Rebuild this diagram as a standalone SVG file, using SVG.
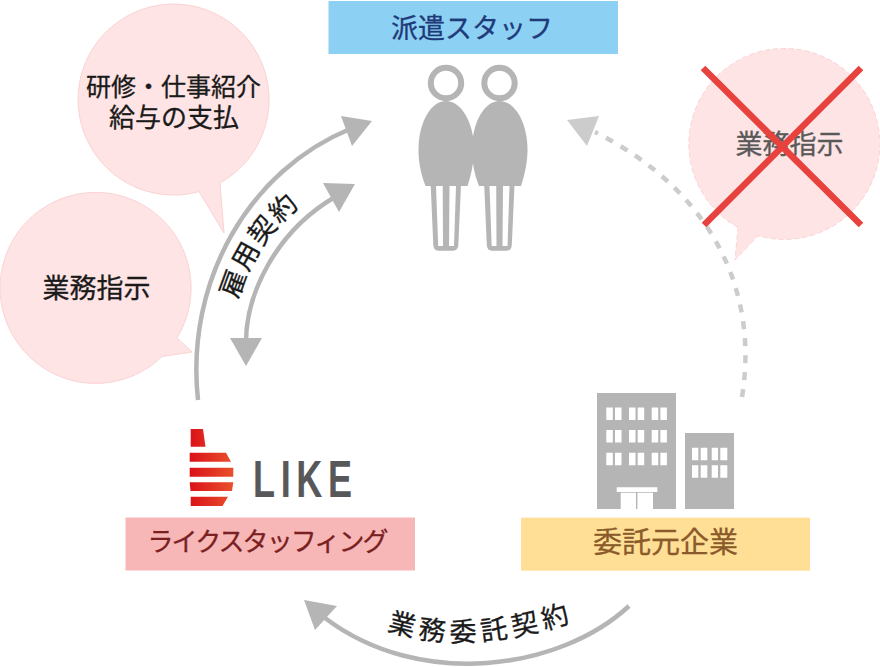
<svg xmlns="http://www.w3.org/2000/svg" xmlns:xlink="http://www.w3.org/1999/xlink" width="880" height="667" viewBox="0 0 880 667">
<style>
text{font-family:"Noto Sans CJK JP","Noto Sans",sans-serif;font-size:27px;text-anchor:middle;fill:#1a1a1a;stroke:#1a1a1a;stroke-width:.3px}
.bub{fill:#fee4e4;stroke:#fbd3d3;stroke-width:1}
.gray{fill:#b5b5b5}
.win{fill:#fff}
.arc{fill:none;stroke:#b5b5b5;stroke-width:4.5}
.head{fill:#b5b5b5}
</style>
<defs>
<linearGradient id="lg" x1="0" y1="0" x2="1" y2="0"><stop offset="0" stop-color="#da1218"/><stop offset="1" stop-color="#e9502c"/></linearGradient>
<g id="person">
<circle cx="446" cy="83" r="15.2" fill="none" stroke="#b5b5b5" stroke-width="6"/>
<path class="gray" d="M425.5 186C420 172 418.5 160 418.5 150C418.5 122 431 101 446 101C461 101 474 122 474 150C474 160 472 172 467.5 186Z"/>
<path class="gray" d="M430.7 185L461 185L458.3 245Q458 250.7 453 250.7L438.5 250.7Q433.5 250.7 433.3 245Z"/>
<path class="win" d="M436 186L442.7 186L443 246L438.2 246ZM449.5 186L456 186L454 246L449 246Z"/>
</g>
<path id="tp1" d="M238 300Q255 240 305 202"/>
<path id="tp2" d="M387 630Q470 658 582 618"/>
</defs>

<g id="bubble-training">
<path class="bub" d="M199 191.6A95.5 95.5 0 1 1 220 183L224 233Z"/>
<text x="173.500" y="96" style="font-size:25px">研修・仕事紹介</text>
<text x="174" y="127" style="font-size:26px">給与の支払</text>
</g>
<g id="bubble-instruction">
<path class="bub" d="M177 337.800A95.500 95.500 0 1 0 162 356.500L192 352Z"/>
<text x="96.500" y="298">業務指示</text>
</g>
<g id="connectors">
<path class="arc" d="M198 400C185 280 250 170 350 129"/>
<path class="head" d="M372 121L341 116L352 146Z"/>
<path class="arc" d="M246 342C246 295 275 232 335 197"/>
<path class="head" d="M355 184L323 183L339 212Z"/>
<path class="head" d="M230 338L262 338L246 366Z"/>
<path class="arc" d="M629 606C560 670 420 690 325 618"/>
<path class="head" d="M304 600L337 606L315 630Z"/>
<path fill="none" stroke="#ccc" stroke-width="4.500" stroke-dasharray="8 9" d="M742 397C758 300 720 195 595 132"/>
<path fill="#ccc" d="M567 120L599 116L587 146Z"/>
</g>
<g id="label-employment"><text style="text-anchor:start;font-size:27px;letter-spacing:2px"><textPath xlink:href="#tp1" href="#tp1">雇用契約</textPath></text></g>
<g id="label-outsourcing"><text style="text-anchor:start;font-size:27px;letter-spacing:5px"><textPath xlink:href="#tp2" href="#tp2">業務委託契約</textPath></text></g>
<g id="staff">
<rect x="328.500" y="1" width="289.500" height="53" fill="#8cd1f3"/>
<text x="472" y="38" style="fill:#1f3a7a;stroke:#1f3a7a">派遣スタッフ</text>
<use xlink:href="#person" href="#person"/>
<use xlink:href="#person" href="#person" x="53.500"/>
</g>
<g id="bubble-crossed">
<path class="bub" style="stroke-dasharray:5 3" d="M738 227.400A95.500 95.500 0 1 1 758 235.700L735 260Z"/>
<text x="789.500" y="154" style="fill:#595959;stroke:#595959">業務指示</text>
<path d="M703 68L861 225M861 68L704 225" stroke="#e8423f" stroke-width="6.500" fill="none"/>
</g>
<g id="like">
<path fill="url(#lg)" d="M190.700 429L203 429L205.500 446.700L190.700 446.700ZM189.700 452.700L226 452.700L231 461.700L189.700 461.700ZM189.700 467.700L233.300 467.700L233.300 476.700L189.700 476.700ZM189.700 482.300L233.300 482.300L232 491L190.500 491ZM190.700 496.700L228 496.700L222.500 506L190.700 506Z"/>
<text transform="translate(253 496.700) scale(.707 1)" style="font-family:'Liberation Sans',sans-serif;font-weight:700;font-size:51px;letter-spacing:8px;text-anchor:start;fill:#58585a;stroke:none">LIKE</text>
<rect x="125.500" y="517.500" width="289.500" height="53" fill="#f7b7b7"/>
<text x="268" y="551" style="font-size:26px;fill:#7a2020;stroke:#7a2020" textLength="241">ライクスタッフィング</text>
</g>
<g id="client">
<rect class="gray" x="597" y="393" width="79" height="116"/>
<rect class="gray" x="685" y="433" width="49" height="76"/>
<g class="win">
<path d="M606.300 407.500h6.500v12.500h-6.500zM615 407.500h6.500v12.500h-6.500zM629 407.500h6.500v12.500h-6.500zM637.700 407.500h6.500v12.500h-6.500zM651.700 407.500h6.500v12.500h-6.500zM660.400 407.500h6.500v12.500h-6.500z"/>
<path d="M606.300 430h6.500v12.500h-6.500zM615 430h6.500v12.500h-6.500zM629 430h6.500v12.500h-6.500zM637.700 430h6.500v12.500h-6.500zM651.700 430h6.500v12.500h-6.500zM660.400 430h6.500v12.500h-6.500z"/>
<path d="M606.300 452.700h6.500v12.500h-6.500zM615 452.700h6.500v12.500h-6.500zM629 452.700h6.500v12.500h-6.500zM637.700 452.700h6.500v12.500h-6.500zM651.700 452.700h6.500v12.500h-6.500zM660.400 452.700h6.500v12.500h-6.500z"/>
<path d="M692 447.700h6.300v12.500h-6.300zM700.700 447.700h6.600v12.500h-6.600zM711.700 447.700h6.300v12.500h-6.300zM720.300 447.700h7v12.500h-7z"/>
<path d="M692 465.300h6.300v12.500h-6.300zM700.700 465.300h6.600v12.500h-6.600zM711.700 465.300h6.300v12.500h-6.300zM720.300 465.300h7v12.500h-7z"/>
<path d="M616.700 487.300h40.600v4.700h-40.600zM620.700 492.700h15.300v16.300h-15.300zM637.400 492.700h15.600v16.300h-15.600z"/>
</g>
<rect x="521" y="517.700" width="289" height="53" fill="#ffdf95"/>
<text x="665.500" y="553" style="font-size:29px;fill:#8a5a2b;stroke:#8a5a2b">委託元企業</text>
</g>
</svg>
